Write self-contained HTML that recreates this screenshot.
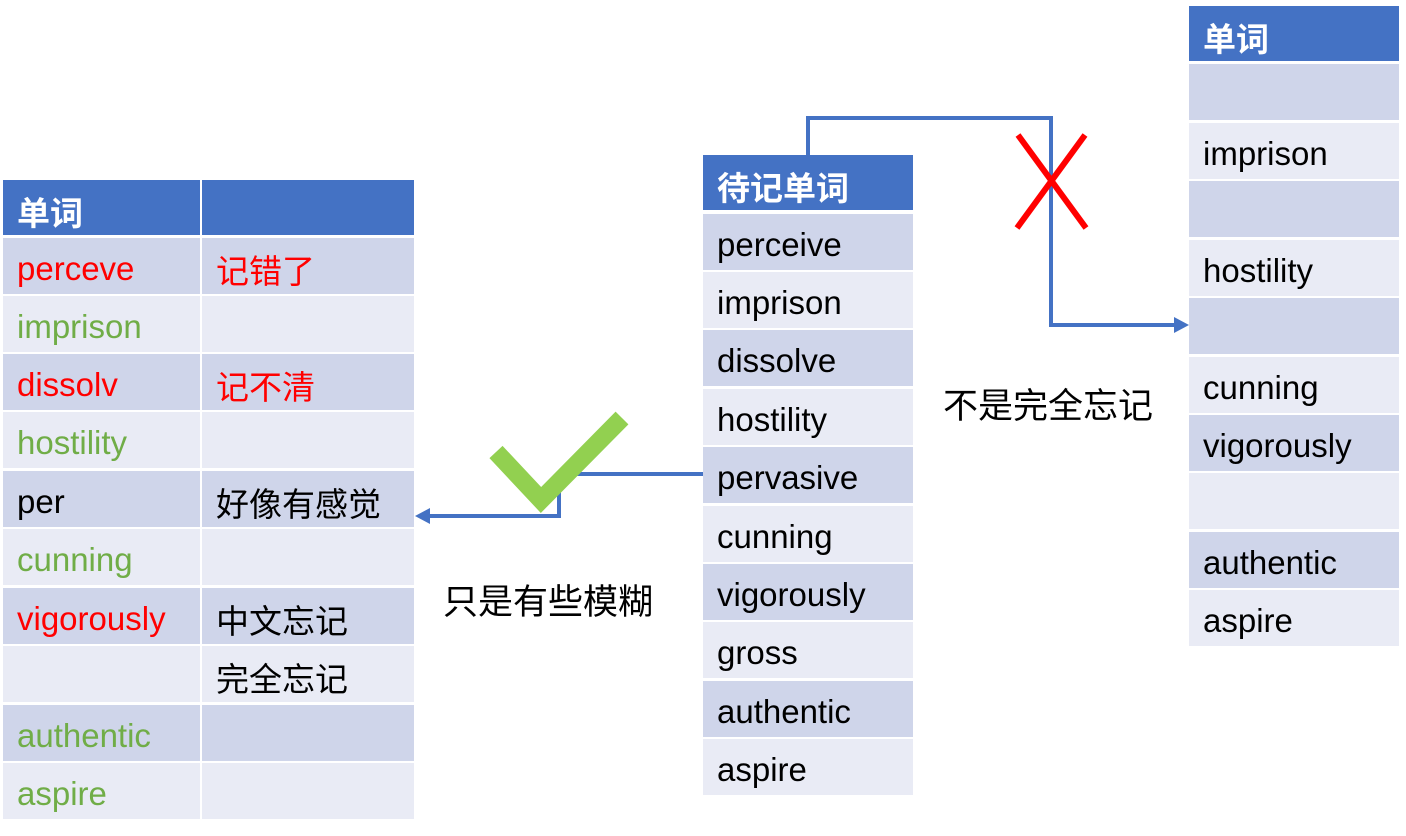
<!DOCTYPE html>
<html><head><meta charset="utf-8"><style>
body{margin:0;width:1406px;height:836px;background:#fff;position:relative;overflow:hidden;font-family:"Liberation Sans","Noto Sans CJK SC",sans-serif;}
.c{position:absolute;box-sizing:border-box;padding-left:14px;padding-top:6px;font-size:33px;display:flex;align-items:center;color:#000;white-space:nowrap;}
.h{background:#4472C4;color:#fff;font-weight:bold;}
.d{background:#CFD5EA;}
.l{background:#E9EBF5;}
.r{color:#FF0000;}
.g{color:#70AD47;}
.t{position:absolute;font-size:35px;}
</style></head><body>
<div class="c h" style="left:3px;top:180px;width:197px;height:55px">单词</div>
<div class="c h" style="left:202px;top:180px;width:212px;height:55px"></div>
<div class="c d r" style="left:3px;top:238px;width:197px;height:56px">perceve</div><div class="c d r" style="left:202px;top:238px;width:212px;height:56px">记错了</div>
<div class="c l g" style="left:3px;top:296px;width:197px;height:56px">imprison</div><div class="c l" style="left:202px;top:296px;width:212px;height:56px"></div>
<div class="c d r" style="left:3px;top:354px;width:197px;height:56px">dissolv</div><div class="c d r" style="left:202px;top:354px;width:212px;height:56px">记不清</div>
<div class="c l g" style="left:3px;top:412px;width:197px;height:56px">hostility</div><div class="c l" style="left:202px;top:412px;width:212px;height:56px"></div>
<div class="c d" style="left:3px;top:471px;width:197px;height:56px">per</div><div class="c d" style="left:202px;top:471px;width:212px;height:56px">好像有感觉</div>
<div class="c l g" style="left:3px;top:529px;width:197px;height:56px">cunning</div><div class="c l" style="left:202px;top:529px;width:212px;height:56px"></div>
<div class="c d r" style="left:3px;top:588px;width:197px;height:56px">vigorously</div><div class="c d" style="left:202px;top:588px;width:212px;height:56px">中文忘记</div>
<div class="c l" style="left:3px;top:646px;width:197px;height:56px"></div><div class="c l" style="left:202px;top:646px;width:212px;height:56px">完全忘记</div>
<div class="c d g" style="left:3px;top:705px;width:197px;height:56px">authentic</div><div class="c d" style="left:202px;top:705px;width:212px;height:56px"></div>
<div class="c l g" style="left:3px;top:763px;width:197px;height:56px">aspire</div><div class="c l" style="left:202px;top:763px;width:212px;height:56px"></div>
<div class="c h" style="left:703px;top:155px;width:210px;height:55px">待记单词</div>
<div class="c d" style="left:703px;top:214px;width:210px;height:56px">perceive</div>
<div class="c l" style="left:703px;top:272px;width:210px;height:56px">imprison</div>
<div class="c d" style="left:703px;top:330px;width:210px;height:56px">dissolve</div>
<div class="c l" style="left:703px;top:389px;width:210px;height:56px">hostility</div>
<div class="c d" style="left:703px;top:447px;width:210px;height:56px">pervasive</div>
<div class="c l" style="left:703px;top:506px;width:210px;height:56px">cunning</div>
<div class="c d" style="left:703px;top:564px;width:210px;height:56px">vigorously</div>
<div class="c l" style="left:703px;top:622px;width:210px;height:56px">gross</div>
<div class="c d" style="left:703px;top:681px;width:210px;height:56px">authentic</div>
<div class="c l" style="left:703px;top:739px;width:210px;height:56px">aspire</div>
<div class="c h" style="left:1189px;top:6px;width:210px;height:55px">单词</div>
<div class="c d" style="left:1189px;top:64px;width:210px;height:56px"></div>
<div class="c l" style="left:1189px;top:123px;width:210px;height:56px">imprison</div>
<div class="c d" style="left:1189px;top:181px;width:210px;height:56px"></div>
<div class="c l" style="left:1189px;top:240px;width:210px;height:56px">hostility</div>
<div class="c d" style="left:1189px;top:298px;width:210px;height:56px"></div>
<div class="c l" style="left:1189px;top:357px;width:210px;height:56px">cunning</div>
<div class="c d" style="left:1189px;top:415px;width:210px;height:56px">vigorously</div>
<div class="c l" style="left:1189px;top:473px;width:210px;height:56px"></div>
<div class="c d" style="left:1189px;top:532px;width:210px;height:56px">authentic</div>
<div class="c l" style="left:1189px;top:590px;width:210px;height:56px">aspire</div>
<div class="t" style="left:443px;top:574px">只是有些模糊</div>
<div class="t" style="left:943px;top:378px">不是完全忘记</div>
<svg width="1406" height="836" style="position:absolute;left:0;top:0">
<polyline points="808,155 808,118 1051,118 1051,325 1176,325" fill="none" stroke="#4472C4" stroke-width="4"/>
<polygon points="1189,325 1174,317 1174,333" fill="#4472C4"/>
<polyline points="703,474 559,474 559,516 428,516" fill="none" stroke="#4472C4" stroke-width="4"/>
<polygon points="415,516 430,508 430,524" fill="#4472C4"/>
<polyline points="496,452 541,500 622,418" fill="none" stroke="#92D050" stroke-width="18"/>
<line x1="1018" y1="135" x2="1086" y2="228" stroke="#FF0000" stroke-width="6"/>
<line x1="1085" y1="135" x2="1017" y2="228" stroke="#FF0000" stroke-width="6"/>
</svg>
</body></html>
